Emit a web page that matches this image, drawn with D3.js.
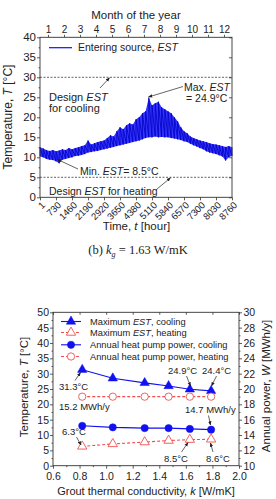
<!DOCTYPE html>
<html>
<head>
<meta charset="utf-8">
<script src="https://cdn.jsdelivr.net/npm/d3@7"></script>
<style>
  body { margin: 0; background: #fff; }
  svg { display: block; }
  text { font-family: "Liberation Sans", Arial, sans-serif; fill: #222; }
</style>
</head>
<body>
<svg width="276" height="499"></svg>
<script>
// ---- top chart data (EST over the year, every 146 h) ----
let estHigh = [12.5, 12.2, 11.8, 11.6, 11.8, 11.5, 11.7, 12.0, 11.8, 12.3,
    12.0, 12.3, 12.5, 12.8, 13.0, 14.2, 13.2, 13.5, 13.8, 14.0,
    14.2, 14.8, 15.5, 15.2, 16.5, 17.5, 17.0, 18.0, 18.5, 18.2,
    19.5, 20.0, 21.0, 21.5, 24.9, 23.0, 23.5, 23.9, 22.5, 22.0,
    21.5, 21.0, 20.0, 19.0, 17.5, 16.5, 16.0, 15.2, 14.8, 14.5,
    14.2, 14.0, 13.8, 13.5, 13.3, 13.2, 13.0, 12.8, 12.6, 12.8, 12.5];
let estLow = [10.2, 10.0, 9.6, 9.4, 9.3, 9.0, 8.5, 9.4, 9.6, 9.8,
    10.0, 10.3, 10.4, 10.6, 10.8, 11.2, 11.3, 11.5, 11.6, 11.8,
    12.0, 12.2, 12.4, 12.6, 12.8, 13.0, 13.2, 13.4, 13.6, 13.8,
    14.0, 14.2, 14.5, 14.8, 15.0, 15.0, 15.2, 15.0, 15.1, 15.0,
    15.0, 14.8, 14.7, 14.5, 14.3, 14.0, 13.8, 13.4, 13.0, 12.7,
    12.3, 12.0, 11.5, 11.2, 11.0, 10.8, 10.5, 10.2, 9.2, 10.0, 10.4];
let estHours = d3.range(estHigh.length).map(i => Math.min(8760, 1 + i * 146));
let hourTicks = [1, 730, 1460, 2190, 2920, 3650, 4380, 5110, 5840, 6570, 7300, 8030, 8760];
let months = [1, 2, 3, 4, 5, 6, 7, 8, 9, 10, 11, 12];
let designCooling = 30;
let designHeating = 5;

// ---- bottom chart data ----
let groutK = [0.82, 1.05, 1.29, 1.47, 1.63, 1.79];
let maxEstCooling = [31.3, 28.5, 27.0, 26.0, 24.9, 24.4];
let maxEstHeating = [6.3, 7.1, 7.7, 8.2, 8.5, 8.6];
let powerCooling = [15.2, 15.0, 14.9, 14.9, 14.8, 14.7];
let powerHeating = [19.0, 19.0, 19.0, 19.0, 19.0, 19.0];

let blue = "#1010f0", red = "#f05050", frame = "#333";
let svg = d3.select("svg");

svg.append("defs").append("marker")
    .attr("id", "arr").attr("viewBox", "0 0 10 10")
    .attr("refX", 9).attr("refY", 5)
    .attr("markerWidth", 6).attr("markerHeight", 6)
    .attr("orient", "auto")
    .append("path").attr("d", "M0,1 L10,5 L0,9 Z").attr("fill", "#222");

function styleAxis(g, fs) {
    g.select(".domain").remove();
    g.selectAll("line").attr("stroke", frame).attr("stroke-width", 0.8);
    g.selectAll("text").style("font-size", fs + "px").attr("fill", "#222");
}

function arrow(x1, y1, x2, y2) {
    svg.append("line").attr("x1", x1).attr("y1", y1).attr("x2", x2).attr("y2", y2)
        .attr("stroke", "#222").attr("stroke-width", 0.7)
        .attr("marker-end", "url(#arr)");
}

function label(x, y, parts, fs, anchor) {
    let t = svg.append("text").attr("x", x).attr("y", y)
        .style("font-size", fs + "px").attr("text-anchor", anchor || "start");
    parts.forEach(function (p) {
        let s = t.append("tspan").text(p[0]);
        if (p[1]) s.style("font-style", "italic");
    });
    return t;
}

// ================= top chart =================
let x1 = d3.scaleLinear().domain([1, 8760]).range([40, 232]);
let y1 = d3.scaleLinear().domain([0, 40]).range([197.3, 37.3]);
let xm = d3.scaleLinear().domain([0.5, 12.5]).range([40, 232]);

let topG = svg.append("g");

// band + daily swing
topG.append("path")
    .datum(estHours)
    .attr("fill", "#3434ff")
    .attr("d", d3.area()
        .x(function (d) { return x1(d); })
        .y0(function (d, i) { return y1(estLow[i]); })
        .y1(function (d, i) { return y1(estHigh[i]); }));

let zig = [];
estHours.forEach(function (h, i) {
    zig.push([h, estLow[i]]);
    zig.push([h, estHigh[i]]);
});
topG.append("path")
    .datum(zig)
    .attr("fill", "none").attr("stroke", "#0000c0").attr("stroke-width", 0.8)
    .attr("d", d3.line().x(d => x1(d[0])).y(d => y1(d[1])));

// design lines
[designCooling, designHeating].forEach(function (v) {
    topG.append("line")
        .attr("x1", x1(1)).attr("x2", x1(8760))
        .attr("y1", y1(v)).attr("y2", y1(v))
        .attr("stroke", "#222").attr("stroke-width", 0.7)
        .attr("stroke-dasharray", "2,1.5");
});

// axes
let gl = svg.append("g").attr("transform", "translate(40,0)")
    .call(d3.axisLeft(y1).tickValues(d3.range(0, 41, 5)).tickSize(3).tickPadding(1));
styleAxis(gl, 11.5);
let glm = svg.append("g").attr("transform", "translate(40,0)")
    .call(d3.axisLeft(y1).tickValues(d3.range(2.5, 40, 5)).tickSize(1.5).tickFormat(""));
styleAxis(glm, 10);
let gr = svg.append("g").attr("transform", "translate(232,0)")
    .call(d3.axisLeft(y1).tickValues(d3.range(0, 41, 5)).tickSize(3).tickFormat(""));
styleAxis(gr, 10);

let gb = svg.append("g").attr("transform", "translate(0,197.3)")
    .call(d3.axisBottom(x1).tickValues(hourTicks).tickSize(3).tickFormat(d3.format("d")));
styleAxis(gb, 9.5);
gb.selectAll("text")
    .attr("y", 0).attr("x", 0).attr("dy", "0.35em")
    .attr("text-anchor", "end")
    .attr("transform", "translate(3,6) rotate(-45)");

let gt = svg.append("g").attr("transform", "translate(0,37.3)")
    .call(d3.axisTop(xm).tickValues(months).tickSize(2.5).tickPadding(1.5));
styleAxis(gt, 10);

topG.append("rect").attr("x", 40).attr("y", 37.3).attr("width", 192).attr("height", 160)
    .attr("fill", "none").attr("stroke", frame).attr("stroke-width", 0.9);

// legend
svg.append("line").attr("x1", 49).attr("x2", 72).attr("y1", 47.7).attr("y2", 47.7)
    .attr("stroke", blue).attr("stroke-width", 1.2);
label(78, 51.3, [["Entering source, "], ["EST", true]], 10.5);

// notes
label(49, 100.5, [["Design "], ["EST", true]], 11);
label(49, 112, [["for cooling"]], 11);
arrow(100, 88, 109.5, 77.8);
label(230, 91, [["Max. "], ["EST", true]], 10.5, "end");
label(186, 102, [["= 24.9\u00b0C"]], 10.5);
arrow(183, 86.5, 148.5, 97);
label(80, 174.5, [["Min. "], ["EST", true], ["= 8.5\u00b0C"]], 10.5);
arrow(78, 169, 57.5, 159.5);
label(49, 194.5, [["Design "], ["EST", true], [" for heating"]], 10.5);
arrow(157, 189, 170.5, 177.8);

// titles
label(136, 19, [["Month of the year"]], 11.5, "middle");
label(136.5, 230, [["Time, "], ["t", true], [" [hour]"]], 11.5, "middle");
label(0, 0, [["Temperature, "], ["T", true], [" [\u00b0C]"]], 12, "middle")
    .attr("transform", "translate(12,117) rotate(-90)");

// caption
let cap = svg.append("text").attr("x", 138).attr("y", 254)
    .attr("text-anchor", "middle")
    .style("font-family", "'Liberation Serif', 'DejaVu Serif', serif")
    .style("font-size", "12.5px");
cap.append("tspan").text("(b)  ");
cap.append("tspan").text("k").style("font-style", "italic");
cap.append("tspan").text("g").style("font-style", "italic").style("font-size", "8px").attr("dy", 3);
cap.append("tspan").text(" = 1.63 W/mK").attr("dy", -3);

// ================= bottom chart =================
let x2 = d3.scaleLinear().domain([0.6, 2.0]).range([53, 239]);
let yL = d3.scaleLinear().domain([0, 50]).range([465.7, 312.3]);
let yR = d3.scaleLinear().domain([10, 30]).range([465.7, 312.3]);

let a1 = svg.append("g").attr("transform", "translate(53,0)")
    .call(d3.axisLeft(yL).tickValues(d3.range(0, 51, 5)).tickSize(3).tickPadding(1));
styleAxis(a1, 10.5);
let a1m = svg.append("g").attr("transform", "translate(53,0)")
    .call(d3.axisLeft(yL).tickValues(d3.range(2.5, 50, 5)).tickSize(1.5).tickFormat(""));
styleAxis(a1m, 10);
let a2 = svg.append("g").attr("transform", "translate(239,0)")
    .call(d3.axisRight(yR).tickValues(d3.range(10, 31, 2)).tickSize(3).tickPadding(1.5));
styleAxis(a2, 10.5);
let a2m = svg.append("g").attr("transform", "translate(239,0)")
    .call(d3.axisRight(yR).tickValues(d3.range(11, 30, 2)).tickSize(1.5).tickFormat(""));
styleAxis(a2m, 10);
let a3 = svg.append("g").attr("transform", "translate(0,465.7)")
    .call(d3.axisBottom(x2).tickValues(d3.range(0.6, 2.01, 0.2)).tickSize(3).tickPadding(4)
        .tickFormat(d3.format(".1f")));
styleAxis(a3, 10.5);
let a3m = svg.append("g").attr("transform", "translate(0,465.7)")
    .call(d3.axisBottom(x2).tickValues(d3.range(0.7, 2.0, 0.2)).tickSize(1.5).tickFormat(""));
styleAxis(a3m, 10);
let a4 = svg.append("g").attr("transform", "translate(0,312.3)")
    .call(d3.axisTop(x2).tickValues(d3.range(0.6, 2.01, 0.2)).tickSize(-2.5).tickFormat(""));
styleAxis(a4, 10);

svg.append("rect").attr("x", 53).attr("y", 312.3).attr("width", 186).attr("height", 153.4)
    .attr("fill", "none").attr("stroke", frame).attr("stroke-width", 0.9);

let series = [
    {vals: maxEstCooling, y: yL, color: blue, dash: null, shape: d3.symbolTriangle, fill: true},
    {vals: maxEstHeating, y: yL, color: red, dash: "3,2", shape: d3.symbolTriangle, fill: false},
    {vals: powerCooling, y: yR, color: blue, dash: null, shape: d3.symbolCircle, fill: true},
    {vals: powerHeating, y: yR, color: red, dash: "3,2", shape: d3.symbolCircle, fill: false}
];
let legendNames = [
    [["Maximum "], ["EST", true], [", cooling"]],
    [["Maximum "], ["EST", true], [", heating"]],
    [["Annual heat pump power, cooling"]],
    [["Annual heat pump power, heating"]]
];
let legendY = [321.5, 332.5, 344.8, 356.5];

series.forEach(function (s, si) {
    let pts = groutK.map((k, i) => [x2(k), s.y(s.vals[i])]);
    svg.append("path").datum(pts)
        .attr("fill", "none").attr("stroke", s.color).attr("stroke-width", 1.1)
        .attr("stroke-dasharray", s.dash)
        .attr("d", d3.line());
    let sym = d3.symbol().type(s.shape).size(s.shape === d3.symbolCircle ? 42 : 38);
    svg.append("g").selectAll("path").data(pts).enter().append("path")
        .attr("transform", d => "translate(" + d[0] + "," + d[1] + ")")
        .attr("d", sym)
        .attr("fill", s.fill ? s.color : "#fff")
        .attr("stroke", s.color).attr("stroke-width", s.fill ? 0.5 : 0.9);

    // legend entry
    let ly = legendY[si];
    svg.append("line").attr("x1", 61).attr("x2", 81).attr("y1", ly).attr("y2", ly)
        .attr("stroke", s.color).attr("stroke-width", 1.1).attr("stroke-dasharray", s.dash);
    svg.append("path").attr("transform", "translate(71," + ly + ")")
        .attr("d", sym)
        .attr("fill", s.fill ? s.color : "#fff")
        .attr("stroke", s.color).attr("stroke-width", s.fill ? 0.5 : 0.9);
    label(90, ly + 3.4, legendNames[si], 9.3);
});

// point notes
label(59, 390, [["31.3\u00b0C"]], 9.5);
arrow(75, 380.5, 80.5, 372.5);
label(168, 374, [["24.9\u00b0C"]], 9.5);
arrow(186.5, 376, 190.5, 386);
label(202, 374, [["24.4\u00b0C"]], 9.5);
arrow(216.5, 376, 211.5, 386);
label(59, 410, [["15.2 MWh/y"]], 9.5);
label(185, 413, [["14.7 MWh/y"]], 9.5);
arrow(208.5, 415.5, 210.5, 425);
label(62, 435, [["6.3\u00b0C"]], 9.5);
arrow(76.5, 437, 81, 445);
label(164, 462, [["8.5\u00b0C"]], 9.5);
arrow(181.5, 452, 188, 442.5);
label(206, 462, [["8.6\u00b0C"]], 9.5);
arrow(213, 452, 210.5, 443);

// titles
label(146, 495, [["Grout thermal conductivity, "], ["k", true], [" [W/mK]"]], 11, "middle");
label(0, 0, [["Temperature, "], ["T", true], [" [\u00b0C]"]], 11.5, "middle")
    .attr("transform", "translate(28,387) rotate(-90)");
label(0, 0, [["Annual power, "], ["W", true], [" [MWh/y]"]], 11.5, "middle")
    .attr("transform", "translate(270,386) rotate(-90)");
</script>
</body>
</html>
